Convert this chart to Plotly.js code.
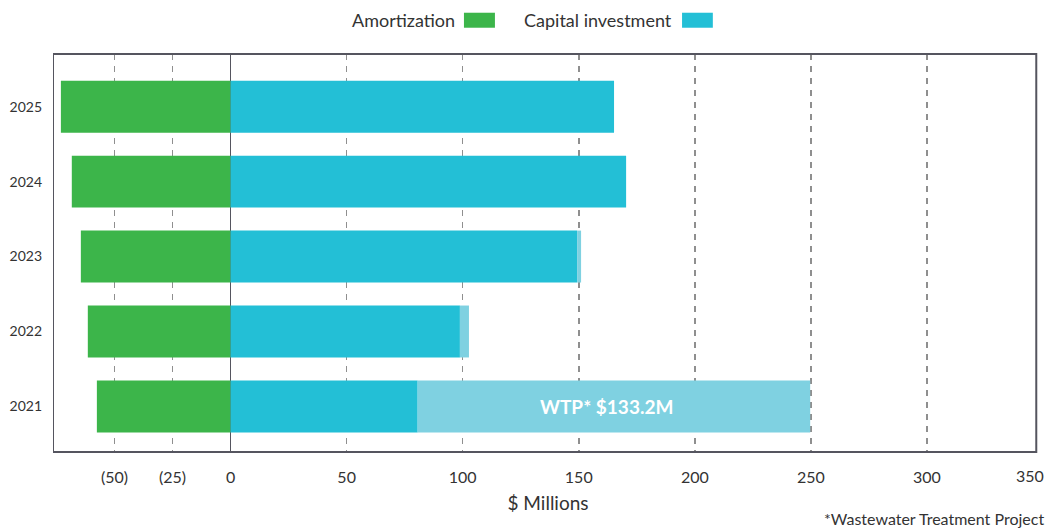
<!DOCTYPE html>
<html>
<head>
<meta charset="utf-8">
<script src="https://cdn.plot.ly/plotly-3.0.1.min.js"></script>
<style>html,body{margin:0;padding:0;background:#fff;}#chart{width:1050px;height:531px;}</style>
</head>
<body>
<div id="chart"></div>
<script>
const years = ['2021', '2022', '2023', '2024', '2025'];
const amortization = [-57.6, -61.5, -64.5, -68.4, -73.1];
const capitalInvestment = [80.6, 98.8, 149.3, 170.4, 165.2];
const wtpInvestment = [169.1, 3.9, 1.7, 0, 0];
const wtpLabel = 'WTP* $133.2M';
const tickValues = [-50, -25, 0, 50, 100, 150, 200, 250, 300];
const tickLabels = ['(50)', '(25)', '0', '50', '100', '150', '200', '250', '300'];
const lastTickLabel = '350';

const FONT = "Lato, 'Open Sans', sans-serif";
const GREEN = '#3cb54a', CYAN = '#23bfd6', LIGHT = '#7fd1e1';
const FRAME = '#55555f';
const TEXT = '#333333';

const traces = [
  {type: 'bar', orientation: 'h', name: 'Amortization', y: years, x: amortization,
   marker: {color: GREEN}, hoverinfo: 'x+y'},
  {type: 'bar', orientation: 'h', name: 'Capital investment', y: years, x: capitalInvestment,
   marker: {color: CYAN}, hoverinfo: 'x+y'},
  {type: 'bar', orientation: 'h', name: 'WTP', y: years, x: wtpInvestment,
   marker: {color: LIGHT}, hoverinfo: 'x+y'}
];

const xEnd = 347.1;
const wtpIndex = 0;
const wtpCenter = capitalInvestment[wtpIndex] + wtpInvestment[wtpIndex] / 2;
const layout = {
  width: 1050, height: 531,
  margin: {l: 53.3, r: 7.3, t: 54, b: 78.7},
  paper_bgcolor: '#ffffff', plot_bgcolor: '#ffffff',
  barmode: 'relative', bargap: 0.307,
  showlegend: false,
  font: {family: FONT, color: TEXT},
  xaxis: {
    range: [-76.5, 350], tickvals: tickValues, ticktext: tickLabels,
    showgrid: true, gridcolor: '#8f8f8f', gridwidth: 1.5, griddash: '6px,6px',
    zeroline: true, zerolinecolor: FRAME, zerolinewidth: 1.5,
    showline: false, ticks: '', ticklabelstandoff: 14,
    tickfont: {family: FONT, size: 16, color: TEXT},
    title: {text: '$ Millions', font: {family: FONT, size: 19, color: TEXT}, standoff: 11},
    fixedrange: true
  },
  yaxis: {
    type: 'category', range: [-0.608, 4.703],
    showgrid: false, zeroline: false, showline: false, ticks: '', ticklabelstandoff: 10,
    tickfont: {family: FONT, size: 14, color: TEXT},
    fixedrange: true
  },
  shapes: [
    {type: 'rect', xref: 'x', yref: 'paper', x0: -76.5, x1: xEnd, y0: 0, y1: 1,
     line: {color: FRAME, width: 2}, fillcolor: 'rgba(0,0,0,0)', layer: 'above'},
    {type: 'rect', xref: 'paper', yref: 'paper', x0: 0.4151, x1: 0.4464, y0: 1.0660, y1: 1.1037,
     line: {width: 0}, fillcolor: GREEN},
    {type: 'rect', xref: 'paper', yref: 'paper', x0: 0.6354, x1: 0.6665, y0: 1.0660, y1: 1.1037,
     line: {width: 0}, fillcolor: CYAN}
  ],
  annotations: [
    {xref: 'paper', yref: 'paper', x: 0.4080, y: 1.0854, xanchor: 'right', yanchor: 'middle',
     text: 'Amortization', showarrow: false, font: {family: FONT, size: 18, color: TEXT}},
    {xref: 'paper', yref: 'paper', x: 0.6273, y: 1.0854, xanchor: 'right', yanchor: 'middle',
     text: 'Capital investment', showarrow: false, font: {family: FONT, size: 18, color: TEXT}},
    {xref: 'paper', yref: 'paper', x: 1.0033, y: -0.06, xanchor: 'right', yanchor: 'middle',
     text: lastTickLabel, showarrow: false, font: {family: FONT, size: 16, color: TEXT}},
    {xref: 'x', yref: 'y', x: wtpCenter, y: wtpIndex, xshift: -7, xanchor: 'center', yanchor: 'middle',
     text: wtpLabel, showarrow: false, font: {family: FONT, size: 19, color: '#ffffff', weight: 'bold'}},
    {xref: 'paper', yref: 'paper', x: 1.0033, y: -0.1675, xanchor: 'right', yanchor: 'middle',
     text: '*Wastewater Treatment Project', showarrow: false,
     font: {family: FONT, size: 16, color: TEXT}}
  ]
};

Plotly.newPlot('chart', traces, layout, {displayModeBar: false, staticPlot: true});
</script>
</body>
</html>
